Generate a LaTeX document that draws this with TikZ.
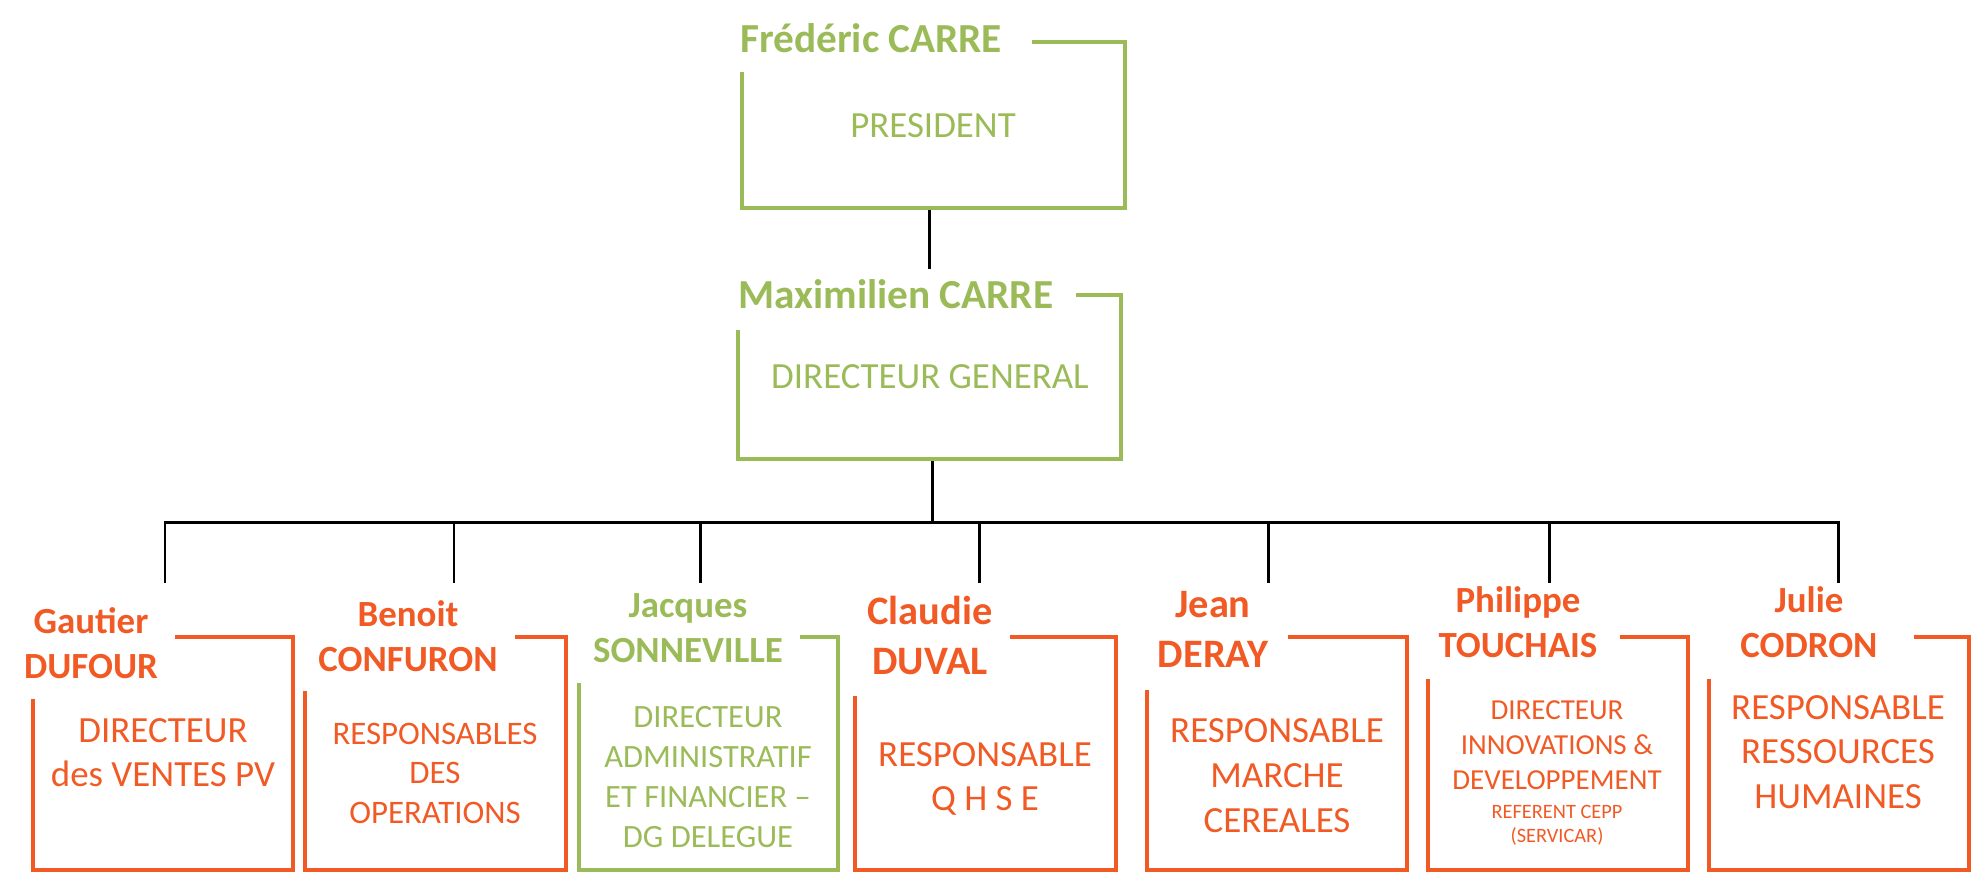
\documentclass[tikz,border=0pt]{standalone}
\usepackage{fontspec}
\setmainfont{Carlito}
\usetikzlibrary{fit}
\definecolor{vertorg}{RGB}{155,187,89}
\definecolor{orangeorg}{RGB}{241,90,36}

\begin{document}
\begin{tikzpicture}[x=0.02cm,y=-0.02cm,
		boite/.style={inner sep=0pt,outer sep=0pt},
		cadre/.style={line width=2.55pt},
		lien/.style={line width=1.7pt,black},
		nom/.style={font=\bfseries\fontsize{21}{25.6}\selectfont,align=center,inner sep=0pt},
		poste/.style={font=\fontsize{21}{25}\selectfont,align=center,inner sep=0pt}]
			\useasboundingbox (0,0) rectangle (1978,877);
			
			\node[boite,fit={(742,42) (1125,208)}] (pres) {};
			\node[boite,fit={(738,295) (1121,459)}] (dg) {};
			
			\coordinate (dg-in) at (929,269);
			\coordinate (bus) at (932,522);
			\foreach \n/\x in {gautier/165,benoit/454,jacques/700,claudie/979,jean/1268,philippe/1549,julie/1838}
			\coordinate (\n-in) at (\x,583);
			
			\draw[lien] (dg-in |- pres.south) -- (dg-in);
			\draw[lien] (bus |- dg.south) -- (bus);
			\draw[lien] (gautier-in) |- (bus) -| (julie-in);
			\foreach \n in {benoit,jacques,claudie,jean,philippe}
			\draw[lien] (\n-in |- bus) -- (\n-in);
			
			\draw[cadre,vertorg] (1032,42) -| (pres.south east) -| (742,72);
			\draw[cadre,vertorg] (1076,295) -| (dg.south east) -| (738,330);
			\foreach \n/\g/\d/\o/\h/\c in {gautier/33/293/175/699/orangeorg,benoit/305/566/515/691/orangeorg,jacques/579/838/800/683/vertorg,claudie/855/1116/1010/696/orangeorg,jean/1147/1407/1288/690/orangeorg,philippe/1428/1688/1620/679/orangeorg,julie/1709/1969/1914/679/orangeorg}
			{
				\node[boite,fit={(\g,637) (\d,870)}] (\n) {};
				\draw[cadre,\c] (\o,637) -| (\n.south east) -| (\g,\h);
			}
			
			\node[nom,vertorg,font=\bfseries\fontsize{23.5}{28}\selectfont,anchor=base west] (pres-nom) at (740,52) {Frédéric CARRE};
			\node[poste,vertorg,anchor=base] (pres-txt) at (933,137) {PRESIDENT};
			\node[nom,vertorg,font=\bfseries\fontsize{23.5}{28}\selectfont,anchor=base west] (dg-nom) at (738,308) {Maximilien CARRE};
			\node[poste,vertorg,anchor=base] (dg-txt) at (930,388) {DIRECTEUR GENERAL};
			
			\node[nom,orangeorg,anchor=south] (gautier-nom) at (91,679) {Gautier\\DUFOUR};
			\node[nom,orangeorg,anchor=south] (benoit-nom) at (408,672) {Benoit\\CONFURON};
			\node[nom,vertorg,anchor=south] (jacques-nom) at (688,663) {Jacques\\SONNEVILLE};
			\node[nom,orangeorg,font=\bfseries\fontsize{23}{28.5}\selectfont,anchor=south] (claudie-nom) at (930,675) {Claudie\\DUVAL};
			\node[nom,orangeorg,font=\bfseries\fontsize{23}{28.5}\selectfont,anchor=south] (jean-nom) at (1213,668) {Jean\\DERAY};
			\node[nom,orangeorg,anchor=south] (philippe-nom) at (1518,658) {Philippe\\TOUCHAIS};
			\node[nom,orangeorg,anchor=south] (julie-nom) at (1809,658) {Julie\\CODRON};
			
			\node[poste,orangeorg,anchor=south] (gautier-txt) at (163,787) {DIRECTEUR\\des VENTES PV};
			\node[poste,orangeorg,font=\fontsize{18.7}{22.5}\selectfont,anchor=south] (benoit-txt) at (435,824) {RESPONSABLES\\DES\\OPERATIONS};
			\node[poste,vertorg,font=\fontsize{18.5}{22.8}\selectfont,anchor=south] (jacques-txt) at (708,848) {DIRECTEUR\\ADMINISTRATIF\\ET FINANCIER –\\DG DELEGUE};
			\node[poste,orangeorg,anchor=north] (claudie-txt) at (985,742) {RESPONSABLE\\Q H S E};
			\node[poste,orangeorg,font=\fontsize{21}{25.6}\selectfont,anchor=south] (jean-txt) at (1277,833) {RESPONSABLE\\MARCHE\\CEREALES};
			\node[poste,orangeorg,font=\fontsize{16.5}{20}\selectfont,anchor=south] (philippe-txt) at (1557,790) {DIRECTEUR\\INNOVATIONS \&\\DEVELOPPEMENT};
			\node[poste,orangeorg,font=\fontsize{11.6}{13.7}\selectfont,anchor=north] (philippe-ref) at (1557,805) {REFERENT CEPP\\(SERVICAR)};
			\node[poste,orangeorg,font=\fontsize{21}{25.3}\selectfont,anchor=south] (julie-txt) at (1838,809) {RESPONSABLE\\RESSOURCES\\HUMAINES};
\end{tikzpicture}
\end{document}
